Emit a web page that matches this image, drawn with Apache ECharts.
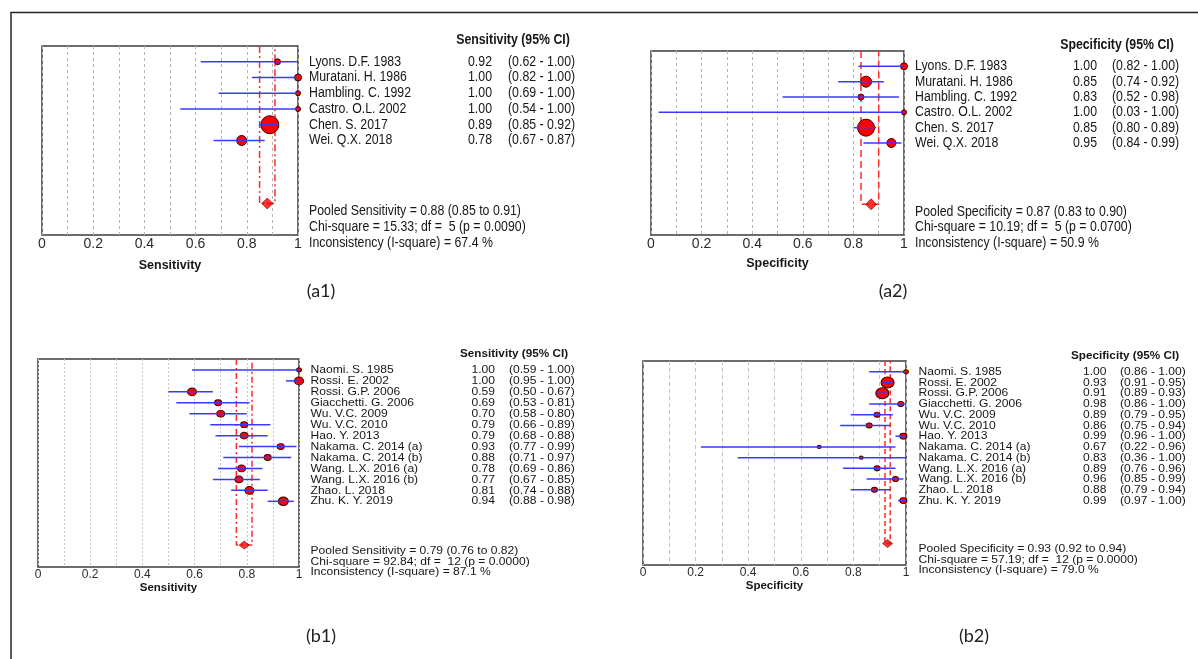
<!DOCTYPE html>
<html>
<head>
<meta charset="utf-8">
<script src="https://cdn.jsdelivr.net/npm/echarts@6/dist/echarts.min.js"></script>
<style>
  html, body { margin: 0; padding: 0; background: #ffffff; }
  #chart { width: 1198px; height: 659px; }
</style>
</head>
<body>
<div id="chart"></div>
<script>
// ---------------- Study data ----------------
// Panel (a1)/(a2): six studies
const studiesA = ['Lyons. D.F. 1983', 'Muratani. H. 1986', 'Hambling. C. 1992', 'Castro. O.L. 2002', 'Chen. S. 2017', 'Wei. Q.X. 2018'];

const sensA      = [0.92, 1.00, 1.00, 1.00, 0.89, 0.78];
const sensALow   = [0.62, 0.82, 0.69, 0.54, 0.85, 0.67];
const sensAHigh  = [1.00, 1.00, 1.00, 1.00, 0.92, 0.87];
const sensAWeight = [6, 7, 5, 5, 18, 10];
const sensAPooled = [0.88, 0.85, 0.91];          // estimate, lower, upper
const sensAHet    = [15.33, 5, 0.0090, 67.4];     // chi-square, df, p, I-square

const specA      = [1.00, 0.85, 0.83, 1.00, 0.85, 0.95];
const specALow   = [0.82, 0.74, 0.52, 0.03, 0.80, 0.84];
const specAHigh  = [1.00, 0.92, 0.98, 1.00, 0.89, 0.99];
const specAWeight = [7, 11, 6, 5, 17, 9];
const specAPooled = [0.87, 0.83, 0.90];
const specAHet    = [10.19, 5, 0.0700, 50.9];

// Panel (b1)/(b2): thirteen studies
const studiesB = ['Naomi. S. 1985', 'Rossi. E. 2002', 'Rossi. G.P. 2006', 'Giacchetti. G. 2006', 'Wu. V.C. 2009', 'Wu. V.C. 2010',
  'Hao. Y. 2013', 'Nakama. C. 2014 (a)', 'Nakama. C. 2014 (b)', 'Wang. L.X. 2016 (a)', 'Wang. L.X. 2016 (b)', 'Zhao. L. 2018', 'Zhu. K. Y. 2019'];

const sensB      = [1.00, 1.00, 0.59, 0.69, 0.70, 0.79, 0.79, 0.93, 0.88, 0.78, 0.77, 0.81, 0.94];
const sensBLow   = [0.59, 0.95, 0.50, 0.53, 0.58, 0.66, 0.68, 0.77, 0.71, 0.69, 0.67, 0.74, 0.88];
const sensBHigh  = [1.00, 1.00, 0.67, 0.81, 0.80, 0.89, 0.88, 0.99, 0.97, 0.86, 0.85, 0.88, 0.98];
const sensBWeight = [5, 9, 9, 7, 8, 7, 8, 7, 7, 8, 8, 9, 10];
const sensBPooled = [0.79, 0.76, 0.82];
const sensBHet    = [92.84, 12, 0.0000, 87.1];

const specB      = [1.00, 0.93, 0.91, 0.98, 0.89, 0.86, 0.99, 0.67, 0.83, 0.89, 0.96, 0.88, 0.99];
const specBLow   = [0.86, 0.91, 0.89, 0.86, 0.79, 0.75, 0.96, 0.22, 0.36, 0.76, 0.85, 0.79, 0.97];
const specBHigh  = [1.00, 0.95, 0.93, 1.00, 0.95, 0.94, 1.00, 0.96, 1.00, 0.96, 0.99, 0.94, 1.00];
const specBWeight = [5, 13, 13, 6, 6, 6, 7, 4, 4, 6, 6, 6, 7];
const specBPooled = [0.93, 0.92, 0.94];
const specBHet    = [57.19, 12, 0.0000, 79.0];

const tickLabels = ['0', '0.2', '0.4', '0.6', '0.8', '1'];

// ---------------- Panel layout ----------------
const FONT = 'Liberation Sans, Arial, sans-serif';
const TEXT_COLOR = '#161616';

const panels = [
  { measure: 'Sensitivity', names: studiesA, est: sensA, lo: sensALow, hi: sensAHigh, w: sensAWeight, pooled: sensAPooled, het: sensAHet,
    grid: { left: 42, top: 46, width: 256, height: 189 }, yMin: -1, yMax: 11, diamondRow: 9, statRows: [9.5, 10.5, 11.5], headerRow: -1.35,
    dx: { name: 11, est: 194, ci: 210, header: 215 }, textSize: 14, textScale: 0.88, headerScale: 0.88,
    tickSize: 14, tickMargin: 2, nameSize: 12.5, nameGap: 24, gridDash: [3, 3], gridColor: '#b5b5b5',
    pooledDash: [7, 3, 2, 3], diamond: [11, 11], ellipse: 1 },
  { measure: 'Specificity', names: studiesA, est: specA, lo: specALow, hi: specAHigh, w: specAWeight, pooled: specAPooled, het: specAHet,
    grid: { left: 651, top: 51, width: 253, height: 184 }, yMin: -1, yMax: 11, diamondRow: 9, statRows: [9.5, 10.5, 11.5], headerRow: -1.4,
    dx: { name: 11, est: 193, ci: 208, header: 213 }, textSize: 14, textScale: 0.88, headerScale: 0.88,
    tickSize: 14, tickMargin: 2, nameSize: 12.5, nameGap: 22, gridDash: [3, 3], gridColor: '#b5b5b5',
    pooledDash: [7, 4], diamond: [11, 11], ellipse: 1 },
  { measure: 'Sensitivity', names: studiesB, est: sensB, lo: sensBLow, hi: sensBHigh, w: sensBWeight, pooled: sensBPooled, het: sensBHet,
    grid: { left: 38, top: 359, width: 261, height: 208 }, yMin: -1, yMax: 18, diamondRow: 16, statRows: [16.5, 17.5, 18.45], headerRow: -1.45,
    dx: { name: 11.5, est: 196, ci: 210, header: 215 }, textSize: 11.5, textScale: 1.05, headerScale: 1.02,
    tickSize: 12, tickMargin: 2, nameSize: 11.5, nameGap: 15, gridDash: [2, 2], gridColor: '#c4c4c4',
    pooledDash: [6, 3, 2, 3], diamond: [10, 8], ellipse: 0.85 },
  { measure: 'Specificity', names: studiesB, est: specB, lo: specBLow, hi: specBHigh, w: specBWeight, pooled: specBPooled, het: specBHet,
    grid: { left: 643, top: 361, width: 263, height: 204 }, yMin: -1, yMax: 18, diamondRow: 16, statRows: [16.5, 17.5, 18.45], headerRow: -1.45,
    dx: { name: 12.5, est: 200.5, ci: 214, header: 219 }, textSize: 11.5, textScale: 1.05, headerScale: 1.02,
    tickSize: 12, tickMargin: 2, nameSize: 11.5, nameGap: 15, gridDash: [4, 3], gridColor: '#c4c4c4',
    pooledDash: [5, 3], diamond: [10, 8], ellipse: 0.85 }
];

const f2 = v => v.toFixed(2);

function textEl(x, y, text, size, scale, align, bold) {
  return {
    type: 'text', x: x, y: y, scaleX: scale,
    style: {
      text: text, fill: TEXT_COLOR, fontSize: size, fontFamily: FONT,
      fontWeight: bold ? 'bold' : 'normal', align: align, verticalAlign: 'middle'
    }
  };
}

const grids = [], xAxes = [], yAxes = [], series = [];

panels.forEach((p, k) => {
  grids.push(Object.assign({ show: true, borderColor: '#3c3c3c', borderWidth: 1.5, backgroundColor: 'transparent' }, p.grid));

  xAxes.push({
    type: 'value', gridIndex: k, min: 0, max: 1, interval: 0.1,
    name: p.measure, nameLocation: 'middle', nameGap: p.nameGap,
    nameTextStyle: { fontFamily: FONT, fontWeight: 'bold', fontSize: p.nameSize, color: TEXT_COLOR },
    axisLine: { show: false }, axisTick: { show: false },
    axisLabel: {
      margin: p.tickMargin, fontFamily: FONT, fontSize: p.tickSize, color: '#2a2a2a',
      formatter: v => {
        const t = Math.round(v * 10);
        return t % 2 === 0 ? tickLabels[t / 2] : '';
      }
    },
    splitLine: { show: true, lineStyle: { color: p.gridColor, type: p.gridDash, width: 1 } }
  });

  yAxes.push({ type: 'value', gridIndex: k, min: p.yMin, max: p.yMax, inverse: true, show: false });

  // study point estimates, circle size by study weight
  series.push({
    type: 'scatter', xAxisIndex: k, yAxisIndex: k, clip: false, silent: true, z: 3,
    data: p.est.map((e, i) => [e, i, p.w[i]]),
    symbol: 'circle',
    symbolSize: v => [v[2], v[2] * p.ellipse],
    itemStyle: { color: '#ff0000', borderColor: '#3a0000', borderWidth: 1, opacity: 1 }
  });

  // 95% confidence intervals
  series.push({
    type: 'custom', xAxisIndex: k, yAxisIndex: k, silent: true, z: 4,
    data: p.lo.map((l, i) => [l, i, p.hi[i]]),
    renderItem: (params, api) => {
      const a = api.coord([api.value(0), api.value(1)]);
      const b = api.coord([api.value(2), api.value(1)]);
      return { type: 'line', shape: { x1: a[0], y1: a[1], x2: b[0], y2: b[1] },
               style: { stroke: '#3a3aff', lineWidth: 1.5 } };
    }
  });

  // pooled confidence bounds
  series.push({
    type: 'line', xAxisIndex: k, yAxisIndex: k, clip: false, silent: true, z: 2,
    symbol: 'none', animation: false,
    data: [[p.pooled[1], p.yMin], [p.pooled[1], p.diamondRow], [p.pooled[2], p.diamondRow], [p.pooled[2], p.yMin]],
    lineStyle: { color: '#ff2a2a', width: 1.5, type: p.pooledDash }
  });

  // pooled estimate
  series.push({
    type: 'scatter', xAxisIndex: k, yAxisIndex: k, clip: false, silent: true, z: 5,
    data: [[p.pooled[0], p.diamondRow]],
    symbol: 'diamond', symbolSize: p.diamond,
    itemStyle: { color: '#ff0000', borderColor: '#7a0000', borderWidth: 0.8 }
  });

  // per-study text columns
  series.push({
    type: 'custom', xAxisIndex: k, yAxisIndex: k, silent: true, z: 6,
    data: p.names.map((nm, i) => [1, i]),
    renderItem: (params, api) => {
      const i = params.dataIndex;
      const c = api.coord([1, i]);
      return {
        type: 'group',
        children: [
          textEl(c[0] + p.dx.name, c[1], p.names[i], p.textSize, p.textScale, 'left', false),
          textEl(c[0] + p.dx.est, c[1], f2(p.est[i]), p.textSize, p.textScale, 'right', false),
          textEl(c[0] + p.dx.ci, c[1], '(' + f2(p.lo[i]) + ' - ' + f2(p.hi[i]) + ')', p.textSize, p.textScale, 'left', false)
        ]
      };
    }
  });

  // column header and pooled summary lines
  const summary = [
    'Pooled ' + p.measure + ' = ' + f2(p.pooled[0]) + ' (' + f2(p.pooled[1]) + ' to ' + f2(p.pooled[2]) + ')',
    'Chi-square = ' + p.het[0].toFixed(2) + '; df =  ' + p.het[1] + ' (p = ' + p.het[2].toFixed(4) + ')',
    'Inconsistency (I-square) = ' + p.het[3].toFixed(1) + ' %'
  ];
  series.push({
    type: 'custom', xAxisIndex: k, yAxisIndex: k, silent: true, z: 6,
    data: [[1, p.headerRow], [1, p.statRows[0]], [1, p.statRows[1]], [1, p.statRows[2]]],
    renderItem: (params, api) => {
      const i = params.dataIndex;
      const c = api.coord([api.value(0), api.value(1)]);
      if (i === 0) {
        return textEl(c[0] + p.dx.header, c[1], p.measure + ' (95% CI)', p.textSize, p.headerScale, 'center', true);
      }
      return textEl(c[0] + p.dx.name, c[1], summary[i - 1], p.textSize, p.textScale, 'left', false);
    }
  });
});

const panelTags = [
  { text: '(a1)', x: 321, y: 291 },
  { text: '(a2)', x: 893, y: 291 },
  { text: '(b1)', x: 321, y: 636 },
  { text: '(b2)', x: 974, y: 636 }
];

const chart = echarts.init(document.getElementById('chart'), null, { renderer: 'canvas' });
chart.setOption({
  animation: false,
  backgroundColor: '#ffffff',
  grid: grids,
  xAxis: xAxes,
  yAxis: yAxes,
  series: series,
  graphic: [
    {
      type: 'polyline', silent: true,
      shape: { points: [[11, 700], [11, 12.5], [1210, 12.5]] },
      style: { stroke: '#262626', lineWidth: 1.5, fill: null }
    }
  ].concat(panelTags.map(t => ({
    type: 'text', x: t.x, y: t.y, silent: true,
    style: { text: t.text, fill: '#222', fontSize: 18, fontFamily: "Lato, 'Open Sans', sans-serif", align: 'center', verticalAlign: 'middle' }
  })))
});
</script>
</body>
</html>
